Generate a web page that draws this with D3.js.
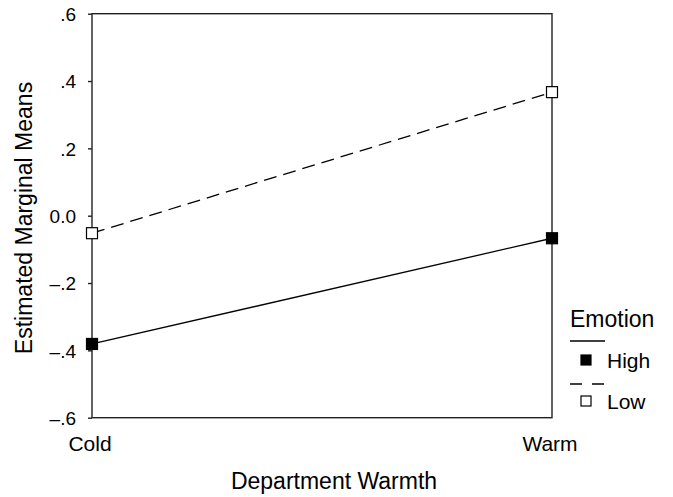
<!DOCTYPE html>
<html><head><meta charset="utf-8">
<script src="https://cdn.jsdelivr.net/npm/d3@7"></script>
<style>body{margin:0;background:#fff}svg{display:block}text{font-family:"Liberation Sans",Arial,Helvetica,sans-serif;fill:#000}</style>
</head><body><svg id="c" width="673" height="497"></svg>
<script>
const categories = ["Cold", "Warm"];
const seriesNames = ["High", "Low"];
const highValues = [-0.381, -0.067];
const lowValues = [-0.052, 0.367];
const yTicks = [-0.6, -0.4, -0.2, 0.0, 0.2, 0.4, 0.6];
const yTickLabels = ["\u2013.6", "\u2013.4", "\u2013.2", "0.0", ".2", ".4", ".6"];

const svg = d3.select("#c");
const x = d3.scalePoint().domain(categories).range([92, 552]).padding(0);
const y = d3.scaleLinear().domain([-0.6, 0.6]).range([417.7, 13.7]);

// frame
svg.append("rect").attr("x", 92).attr("y", y(0.6)).attr("width", 460).attr("height", y(-0.6) - y(0.6))
  .attr("fill", "none").attr("stroke", "#222").attr("stroke-width", 1.4);

// y axis
const yAxis = d3.axisLeft(y).tickValues(yTicks).tickSize(4).tickPadding(12)
  .tickFormat((d, i) => yTickLabels[i]);
const gy = svg.append("g").attr("transform", "translate(92,0)").call(yAxis);
gy.attr("font-size", null).attr("font-family", null);
gy.select(".domain").remove();
gy.selectAll("line").attr("stroke", "#222").attr("stroke-width", 1.4);
gy.selectAll("text").style("font-size", "19px").style("font-family", "'Liberation Sans', Arial, sans-serif").attr("dy", "0.35em");

// x labels
svg.selectAll(".xl").data(categories).join("text").attr("class", "xl")
  .attr("x", d => x(d) - 2).attr("y", 451).attr("text-anchor", "middle").attr("font-size", 21).text(d => d);

svg.append("text").attr("x", 334).attr("y", 489).attr("text-anchor", "middle").attr("font-size", 23).text("Department Warmth");
svg.append("text").attr("transform", "translate(32,218) rotate(-90)").attr("text-anchor", "middle").attr("font-size", 23).text("Estimated Marginal Means");

const line = d3.line().x((d, i) => x(categories[i])).y(d => y(d));
const series = [
  {name: seriesNames[0], values: highValues, dash: null, fill: "#000"},
  {name: seriesNames[1], values: lowValues, dash: "13,7", fill: "#fff"}
];
series.forEach(s => {
  svg.append("path").attr("d", line(s.values)).attr("fill", "none").attr("stroke", "#000")
    .attr("stroke-width", 1.3).attr("stroke-dasharray", s.dash);
  svg.selectAll(null).data(s.values).join("rect")
    .attr("x", (d, i) => x(categories[i]) - 5.5).attr("y", d => y(d) - 5.5)
    .attr("width", 11).attr("height", 11).attr("fill", s.fill).attr("stroke", "#000").attr("stroke-width", 1.2);
});

// legend
const lg = svg.append("g");
lg.append("text").attr("x", 570).attr("y", 327).attr("font-size", 23).text("Emotion");
series.forEach((s, i) => {
  const ly = 341 + i * 43;
  lg.append("line").attr("x1", 570).attr("x2", 605).attr("y1", ly).attr("y2", ly)
    .attr("stroke", "#000").attr("stroke-width", 1.3).attr("stroke-dasharray", s.dash ? "12,10" : null);
  lg.append("rect").attr("x", 581).attr("y", ly + 14 - i * 2).attr("width", 10).attr("height", 10)
    .attr("fill", s.fill).attr("stroke", "#000").attr("stroke-width", 1.2);
  lg.append("text").attr("x", 607).attr("y", ly + 27 - i * 2).attr("font-size", 21).text(s.name);
});
</script></body></html>
